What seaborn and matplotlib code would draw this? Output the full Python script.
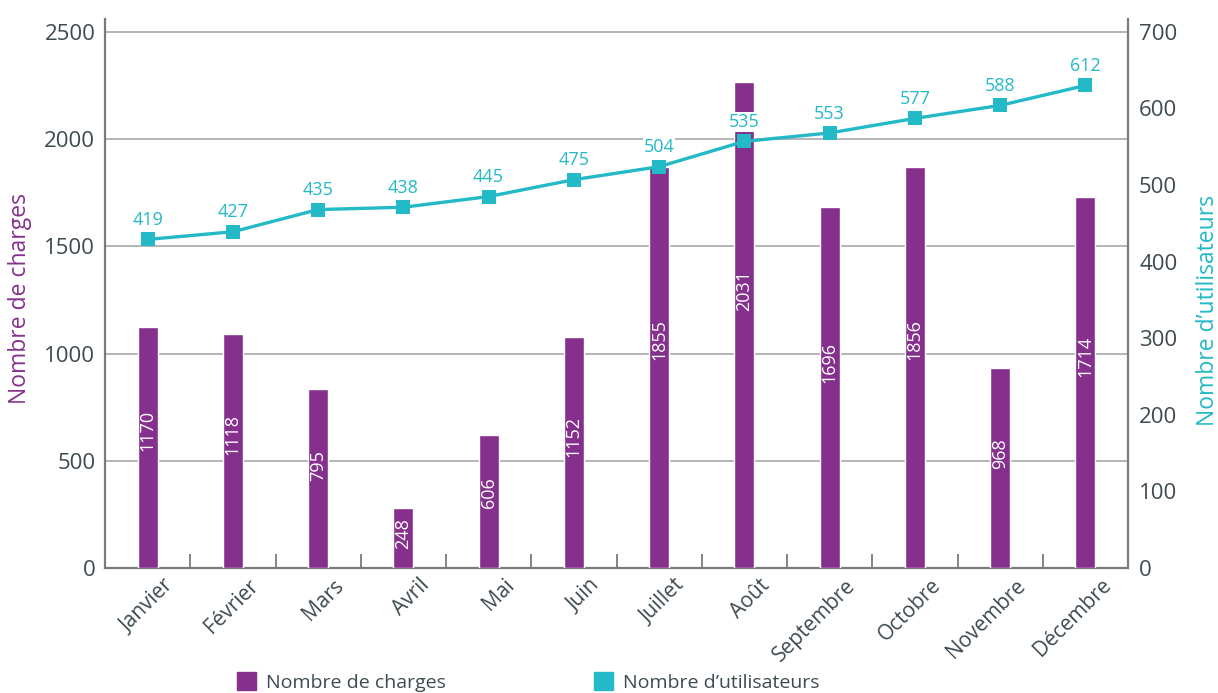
import numpy as np
import matplotlib
matplotlib.use('Agg')
import matplotlib.pyplot as plt
import seaborn as sns
from matplotlib.patches import Patch
from matplotlib.ticker import FixedLocator, MultipleLocator
from matplotlib.transforms import ScaledTranslation

# Données
mois = ['Janvier', 'Février', 'Mars', 'Avril', 'Mai', 'Juin', 'Juillet', 'Août',
        'Septembre', 'Octobre', 'Novembre', 'Décembre']
# valeurs imprimées sur le graphique
charges = [1170, 1118, 795, 248, 606, 1152, 1855, 2031, 1696, 1856, 968, 1714]
utilisateurs = [419, 427, 435, 438, 445, 475, 504, 535, 553, 577, 588, 612]
charges_traces = [1124, 1091, 835, 280, 620, 1077, 1870, 2267, 1684, 1870, 933, 1730]
utilisateurs_traces = [429, 439, 468, 471, 485, 507, 524, 557, 568, 587, 604, 630]

VIOLET = '#85308d'
CYAN = '#23b9c6'
GRIS_TXT = '#3d4a50'
GRIS_AXE = '#7a7a7a'

sns.set_style('white')
plt.rcParams['font.family'] = ['Open Sans', 'DejaVu Sans']

fig = plt.figure(figsize=(12.18, 6.93), dpi=100)
ax = fig.add_axes([105/1218, 1 - 568/693, 1023/1218, 549/693])

sns.barplot(x=mois, y=charges_traces, color=VIOLET, saturation=1, width=0.234,
            ax=ax, zorder=3)
ax.set_xlim(-0.5, 11.5)
ax.set_ylim(0, 2560)
ax.yaxis.set_major_locator(MultipleLocator(500))
ax.grid(axis='y', color='#a8a8a8', linewidth=1.2, zorder=0)
ax.set_axisbelow(True)

# étiquettes des barres
for i, (h, v) in enumerate(zip(charges_traces, charges)):
    ax.text(i, h * 0.57, str(v), rotation=90, ha='center', va='center',
            color='white', fontsize=13, zorder=4)

# axe secondaire : utilisateurs
ax2 = ax.twinx()
sns.lineplot(x=np.arange(len(mois)), y=utilisateurs_traces, color=CYAN, linewidth=2.4,
             marker='s', markersize=10, markeredgewidth=0, ax=ax2)
ax2.set_ylim(0, 2560 * 700 / 2500)
ax2.yaxis.set_major_locator(MultipleLocator(100))
ax2.set_xlim(-0.5, 11.5)
ax2.grid(False)
for i, (yv, v) in enumerate(zip(utilisateurs_traces, utilisateurs)):
    ax2.annotate(str(v), (i, yv), xytext=(0, 14), textcoords='offset points',
                 ha='center', va='center', color=CYAN, fontsize=13,
                 bbox=dict(fc='white', ec='none', pad=0.5))

# axes, graduations
for a in (ax, ax2):
    a.spines['top'].set_visible(False)
    for s in ('left', 'right', 'bottom'):
        a.spines[s].set_color(GRIS_AXE)
        a.spines[s].set_linewidth(1.6)
ax.spines['right'].set_visible(False)
ax2.spines['left'].set_visible(False)
ax2.spines['bottom'].set_visible(False)

ax.tick_params(axis='y', length=0, pad=7, labelsize=16, labelcolor=GRIS_TXT)
ax2.tick_params(axis='y', length=0, pad=8, labelsize=16, labelcolor=GRIS_TXT)
ax.xaxis.set_minor_locator(FixedLocator(np.arange(0.5, 11, 1)))
ax.tick_params(axis='x', which='minor', direction='in', length=10, width=1.3,
               color=GRIS_AXE, bottom=True)
ax.tick_params(axis='x', which='major', length=0, pad=5, labelsize=15,
               labelcolor=GRIS_TXT)
ax.set_xticks(range(len(mois)))
ax.set_xticklabels(mois, rotation=45, ha='right', rotation_mode='anchor')
decal = ScaledTranslation(11/72, 0, fig.dpi_scale_trans)
for lbl in ax.get_xticklabels():
    lbl.set_transform(lbl.get_transform() + decal)
ax.set_xlabel('')

ax.set_ylabel('Nombre de charges', color=VIOLET, fontsize=16.5)
ax.yaxis.set_label_coords(-0.071, 0.49)
ax2.set_ylabel('Nombre d\u2019utilisateurs', color=CYAN, fontsize=16.5, rotation=90)
ax2.yaxis.set_label_coords(1.066, 0.47)

# légende
poignees = [Patch(color=VIOLET, label='Nombre de charges'),
            Patch(color=CYAN, label='Nombre d\u2019utilisateurs')]
fig.legend(handles=poignees, loc='center left', bbox_to_anchor=(237/1218, 1 - 682/693),
           ncol=2, frameon=False, fontsize=14, handlelength=1.0, handleheight=1.0,
           handletextpad=0.5, columnspacing=7.6, borderpad=0, borderaxespad=0,
           labelcolor=GRIS_TXT)

fig.savefig('out.png', dpi=100)
